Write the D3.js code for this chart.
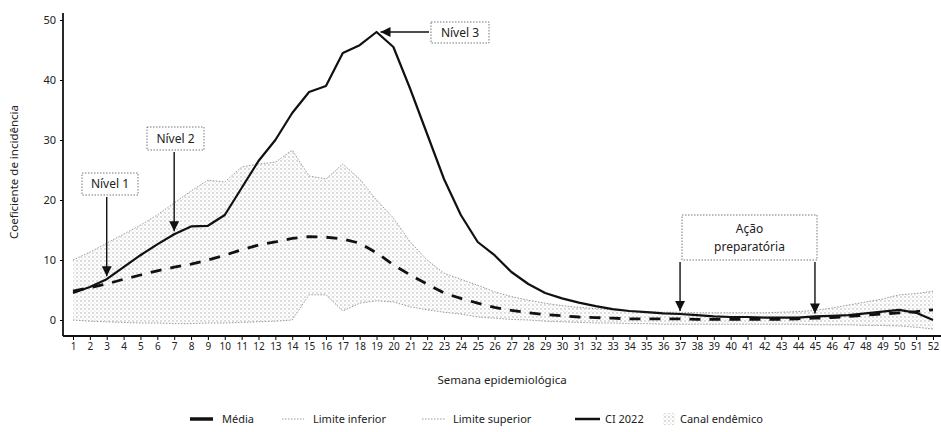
<!DOCTYPE html>
<html>
<head>
<meta charset="utf-8">
<script src="https://cdn.jsdelivr.net/npm/d3@7"></script>
<style>
  body { margin: 0; background: #fff; }
  svg text { font-family: "Noto Sans", sans-serif; fill: #222; }
</style>
</head>
<body>
<div id="chart"></div>
<script>
// --- data ---
const weeks = [1,2,3,4,5,6,7,8,9,10,11,12,13,14,15,16,17,18,19,20,21,22,23,24,25,26,
  27,28,29,30,31,32,33,34,35,36,37,38,39,40,41,42,43,44,45,46,47,48,49,50,51,52];

const media = [4.8,5.4,6,6.8,7.5,8.2,8.8,9.3,10,10.8,11.7,12.5,13,13.6,13.9,13.8,13.5,12.8,11.2,9.2,
  7.5,6,4.5,3.6,2.8,2.1,1.6,1.2,0.9,0.7,0.5,0.4,0.3,0.2,0.2,0.2,0.2,0.1,0.1,0.1,
  0.1,0.1,0.1,0.2,0.3,0.4,0.6,0.8,1,1.2,1.4,1.7];

const limiteSuperior = [10,11.3,12.8,14.3,15.8,17.5,19.5,21.5,23.3,23,25.5,26,26.3,28.3,24,23.5,26,23.5,20,17,
  13,10,7.8,6.8,5.8,4.7,3.9,3.3,2.8,2.4,2.1,1.9,1.7,1.5,1.4,1.3,1.3,1.2,1.2,1.2,
  1.2,1.2,1.3,1.4,1.6,2,2.5,3,3.5,4.2,4.4,4.8];

const limiteInferior = [0,-0.2,-0.3,-0.4,-0.5,-0.5,-0.6,-0.6,-0.5,-0.5,-0.4,-0.3,-0.2,0,4.2,4.2,1.5,2.8,3.2,3,
  2.2,1.7,1.3,1,0.5,0.3,0.1,0,-0.2,-0.3,-0.4,-0.5,-0.5,-0.6,-0.6,-0.7,-0.7,-0.7,-0.7,-0.7,
  -0.7,-0.7,-0.7,-0.7,-0.8,-0.8,-0.8,-0.9,-0.9,-1,-1.2,-1.5];

const ci2022 = [4.5,5.5,6.8,8.8,10.8,12.6,14.3,15.6,15.7,17.5,22,26.5,30,34.5,38,39,44.5,45.8,48,45.5,
  38.5,31,23.5,17.5,13,10.8,8,6,4.5,3.6,2.9,2.3,1.8,1.5,1.3,1.1,1,0.8,0.6,0.5,
  0.5,0.4,0.4,0.4,0.6,0.7,0.8,1.1,1.4,1.7,1.2,0];

const yTicks = [0,10,20,30,40,50];

window.addEventListener("DOMContentLoaded", () => {
  const W = 941, H = 432;
  const svg = d3.select("#chart").append("svg").attr("width", W).attr("height", H);

  const defs = svg.append("defs");
  const pat = defs.append("pattern")
    .attr("id", "dots")
    .attr("patternUnits", "userSpaceOnUse")
    .attr("width", 4).attr("height", 4);
  pat.append("circle").attr("cx", 1).attr("cy", 1).attr("r", 0.65).attr("fill", "#999");
  pat.append("circle").attr("cx", 3).attr("cy", 3).attr("r", 0.55).attr("fill", "#c4c4c4");

  defs.append("marker")
    .attr("id", "arrow")
    .attr("viewBox", "0 0 10 10")
    .attr("refX", 10).attr("refY", 5)
    .attr("markerUnits", "userSpaceOnUse")
    .attr("markerWidth", 12).attr("markerHeight", 10)
    .attr("orient", "auto")
    .append("path").attr("d", "M0,0L10,5L0,10Z").attr("fill", "#111");

  const x = d3.scalePoint().domain(weeks).range([73, 933]);
  const y = d3.scaleLinear().domain([0, 50]).range([320, 20]);
  const axisY = 336, axisX = 63;

  // endemic channel
  const rows = weeks.map((w, i) => ({ w, lo: limiteInferior[i], hi: limiteSuperior[i], m: media[i], c: ci2022[i] }));

  svg.append("path")
    .datum(rows)
    .attr("fill", "url(#dots)")
    .attr("d", d3.area().x(d => x(d.w)).y0(d => y(d.lo)).y1(d => y(d.hi)));

  const line = (key) => d3.line().x(d => x(d.w)).y(d => y(d[key]));

  ["lo", "hi"].forEach(k => {
    svg.append("path").datum(rows)
      .attr("fill", "none").attr("stroke", "#9a9a9a").attr("stroke-width", 1)
      .attr("stroke-dasharray", "1.5,1.5")
      .attr("d", line(k));
  });

  svg.append("path").datum(rows)
    .attr("fill", "none").attr("stroke", "#111").attr("stroke-width", 2.8)
    .attr("stroke-dasharray", "11,9")
    .attr("d", line("m"));

  svg.append("path").datum(rows)
    .attr("fill", "none").attr("stroke", "#111").attr("stroke-width", 2.2)
    .attr("stroke-linejoin", "round")
    .attr("d", line("c"));

  // axes
  const gy = svg.append("g").attr("transform", `translate(${axisX},0)`)
    .call(d3.axisLeft(y).tickValues(yTicks).tickSize(3).tickPadding(4));
  gy.select(".domain").remove();
  gy.selectAll("text").attr("font-size", 11).attr("fill", "#222");
  svg.append("line").attr("x1", axisX).attr("x2", axisX)
    .attr("y1", 13).attr("y2", axisY).attr("stroke", "#111").attr("stroke-width", 1.8);

  const gx = svg.append("g").attr("transform", `translate(0,${axisY})`)
    .call(d3.axisBottom(x).tickSize(4).tickPadding(3));
  gx.select(".domain").remove();
  gx.selectAll("text").attr("font-size", 10).attr("fill", "#222");
  svg.append("line").attr("x1", axisX).attr("x2", 941)
    .attr("y1", axisY).attr("y2", axisY).attr("stroke", "#111").attr("stroke-width", 1.8);

  svg.append("text")
    .attr("text-anchor", "middle")
    .attr("transform", `translate(18,172) rotate(-90)`)
    .attr("font-size", 11.5)
    .text("Coeficiente de incidência");

  svg.append("text")
    .attr("x", 502).attr("y", 384)
    .attr("text-anchor", "middle")
    .attr("font-size", 11.5)
    .text("Semana epidemiológica");

  // annotations
  function box(x0, y0, w, h, lines) {
    svg.append("rect").attr("x", x0).attr("y", y0).attr("width", w).attr("height", h)
      .attr("fill", "#fff").attr("stroke", "#777").attr("stroke-width", 1)
      .attr("stroke-dasharray", "1.5,1.5");
    lines.forEach((t, i) => {
      svg.append("text")
        .attr("x", x0 + w / 2)
        .attr("y", y0 + h / 2 + 4 + (i - (lines.length - 1) / 2) * 18)
        .attr("text-anchor", "middle")
        .attr("font-size", 12)
        .text(t);
    });
  }
  function arrow(x1, y1, x2, y2) {
    svg.append("line").attr("x1", x1).attr("y1", y1).attr("x2", x2).attr("y2", y2)
      .attr("stroke", "#111").attr("stroke-width", 1.4)
      .attr("marker-end", "url(#arrow)");
  }

  box(82, 173, 56, 22, ["Nível 1"]);
  arrow(x(3), 197, x(3), y(ci2022[2]) - 3);

  box(147, 127, 57, 23, ["Nível 2"]);
  arrow(x(7), 152, x(7), y(ci2022[6]) - 3);

  box(431, 22, 58, 21, ["Nível 3"]);
  arrow(429, y(ci2022[18]), x(19) + 4, y(ci2022[18]));

  box(682, 215, 135, 45, ["Ação", "preparatória"]);
  arrow(x(37), 262, x(37), y(ci2022[36]) - 3);
  arrow(x(45), 262, x(45), y(ci2022[44]) - 3);

  // legend
  const ly = 423;
  const leg = svg.append("g");
  leg.append("line").attr("x1", 190).attr("x2", 213).attr("y1", ly - 4).attr("y2", ly - 4)
    .attr("stroke", "#111").attr("stroke-width", 3.5);
  leg.append("text").attr("x", 222).attr("y", ly).attr("font-size", 11).text("Média");

  leg.append("line").attr("x1", 282).attr("x2", 304).attr("y1", ly - 4).attr("y2", ly - 4)
    .attr("stroke", "#9a9a9a").attr("stroke-width", 1).attr("stroke-dasharray", "1.5,1.5");
  leg.append("text").attr("x", 313).attr("y", ly).attr("font-size", 11).text("Limite inferior");

  leg.append("line").attr("x1", 422).attr("x2", 445).attr("y1", ly - 4).attr("y2", ly - 4)
    .attr("stroke", "#9a9a9a").attr("stroke-width", 1).attr("stroke-dasharray", "1.5,1.5");
  leg.append("text").attr("x", 453).attr("y", ly).attr("font-size", 11).text("Limite superior");

  leg.append("line").attr("x1", 575).attr("x2", 600).attr("y1", ly - 4).attr("y2", ly - 4)
    .attr("stroke", "#111").attr("stroke-width", 2.5);
  leg.append("text").attr("x", 605).attr("y", ly).attr("font-size", 11).text("CI 2022");

  leg.append("rect").attr("x", 663).attr("y", ly - 10).attr("width", 12).attr("height", 12)
    .attr("fill", "url(#dots)");
  leg.append("text").attr("x", 680).attr("y", ly).attr("font-size", 11).text("Canal endêmico");
});
</script>
</body>
</html>
